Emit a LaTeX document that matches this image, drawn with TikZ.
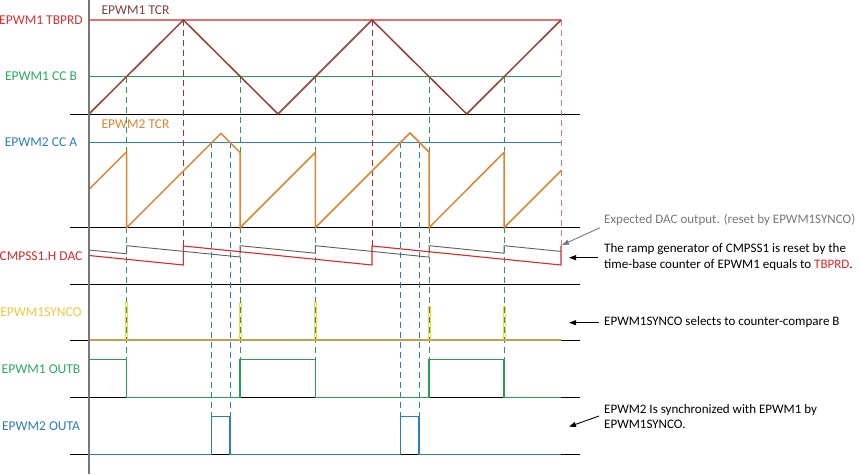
\documentclass[tikz,border=0pt]{standalone}
\usepackage{fontspec}
\setmainfont{Carlito}
\usetikzlibrary{arrows.meta}
\definecolor{tbprd}{RGB}{232,112,112}
\definecolor{tbprdtxt}{RGB}{222,48,48}
\definecolor{tcr}{RGB}{150,62,52}
\definecolor{tcrtxt}{RGB}{128,64,64}
\definecolor{grn}{RGB}{40,155,85}
\definecolor{grntxt}{RGB}{40,170,95}
\definecolor{blu}{RGB}{45,125,185}
\definecolor{org}{RGB}{222,132,48}
\definecolor{dacred}{RGB}{222,40,40}
\definecolor{dacgray}{RGB}{95,95,95}
\definecolor{ylw}{RGB}{242,212,70}
\definecolor{gold}{RGB}{190,160,75}
\definecolor{axisgray}{RGB}{120,120,120}
\definecolor{notegray}{RGB}{120,120,120}
\begin{document}
\begin{tikzpicture}[x=1pt,y=-1pt,
  lbl/.style={font=\fontsize{13.5}{15}\selectfont, inner sep=0pt, anchor=center},
  note/.style={font=\fontsize{13}{15.7}\selectfont, inner sep=0pt, anchor=west, align=left},
  baseln/.style={black, line width=1pt},
  vdash/.style={dash pattern=on 6pt off 4pt, line width=0.9pt},
  wave/.style={line width=1.5pt, line join=miter},
  arr/.style={-{Triangle[length=7pt,width=5pt]}, line width=0.9pt}]
\useasboundingbox (0,0) rectangle (862,474);
\fill[white] (0,0) rectangle (862,474);

% baselines
\foreach \yy in {114,227.7,284,340.3,397.7,454.3}
  \draw[baseln] (70,\yy) -- (580,\yy);

% reference levels
\draw[tbprd, line width=1.2pt] (89,20) -- (561,20);
\draw[grn, line width=1pt] (89,76.7) -- (561,76.7);
\draw[blu, line width=1pt] (89,142.3) -- (561,142.3);

% vertical dashed guides
\foreach \xx in {126.7,240,315.3,429,504}
  \draw[vdash, grn] (\xx,76.7) -- (\xx,359.3);
\foreach \xx in {183.4,372}
  \draw[vdash, tcr!80!red] (\xx,20) -- (\xx,246);
\draw[vdash, tbprd] (561,20) -- (561,246);
\foreach \xx in {211.7,230,400.7,419}
  \draw[vdash, blu] (\xx,142.3) -- (\xx,416.7);

% EPWM1 TCR triangle
\draw[wave, tcr] (89,114) -- (183.4,20) -- (278,114) -- (372,20) -- (466.7,114) -- (561,20);

% EPWM2 TCR sawtooth
\draw[wave, org] (89,189.3) -- (126.7,151.7) -- (126.7,227.7) -- (221,133.4) -- (240,152.4) -- (240,227.7)
  -- (315.3,152.4) -- (315.3,227.7) -- (410,133) -- (429,152) -- (429,227.7)
  -- (504,152.4) -- (504,227.7) -- (561,170.7);

% DAC
\draw[dacgray, line width=0.9pt] (89,250) -- (126.7,253.8) -- (126.7,245.7) -- (240,257) -- (240,245.7)
  -- (315.3,253.2) -- (315.3,245.7) -- (429,257.1) -- (429,245.7) -- (504,253.2) -- (504,245.7) -- (561,251.4);
\draw[dacred, line width=1.1pt] (89,255.5) -- (183.4,265) -- (183.4,246) -- (372,265) -- (372,246) -- (561,265) -- (561,246);

% EPWM1SYNCO
\draw[gold, line width=2.2pt] (89,340.3) -- (561,340.3);
\foreach \xx/\tp in {126.7/302.7,240/303,315.3/302.7,429/306.7,504/306.7}
  \draw[ylw, line width=1pt] (\xx-1,340) -- (\xx-1,\tp) -- (\xx+1,\tp) -- (\xx+1,340);

% EPWM1 OUTB
\draw[wave, grn] (89,359.3) -- (126.7,359.3) -- (126.7,397.7) -- (240,397.7) -- (240,359.3) -- (315.3,359.3)
  -- (315.3,397.7) -- (429,397.7) -- (429,359.3) -- (504,359.3) -- (504,397.7) -- (561,397.7);

% EPWM2 OUTA
\draw[wave, blu] (89,454.3) -- (211.7,454.3) -- (211.7,416.7) -- (230,416.7) -- (230,454.3) -- (400.7,454.3)
  -- (400.7,416.7) -- (419,416.7) -- (419,454.3) -- (561,454.3);

% axis
\draw[axisgray, line width=1.8pt] (89,0) -- (89,474);

% labels
\node[lbl, text=tbprdtxt] (lTBPRD) at (41,20) {EPWM1 TBPRD};
\node[lbl, text=tcrtxt] (lTCR1) at (135.5,10) {EPWM1 TCR};
\node[lbl, text=grntxt] (lCCB) at (41,76) {EPWM1 CC B};
\node[lbl, text=org] (lTCR2) at (135.5,124) {EPWM2 TCR};
\node[lbl, text=blu] (lCCA) at (41,142) {EPWM2 CC A};
\node[lbl, text=dacred] (lDAC) at (41,256) {CMPSS1.H DAC};
\node[lbl, text=ylw!85!orange] (lSYNC) at (41,311.7) {EPWM1SYNCO};
\node[lbl, text=grntxt] (lOUTB) at (41,369) {EPWM1 OUTB};
\node[lbl, text=blu] (lOUTA) at (41,426) {EPWM2 OUTA};

% annotations
\node[note, text=notegray] (nExp) at (604,220) {Expected DAC output. (reset by EPWM1SYNCO)};
\node[note] (nRamp) at (604,257.2) {The ramp generator of CMPSS1 is reset by the\\time-base counter of EPWM1 equals to \textcolor{dacred}{TBPRD}.};
\node[note] (nSync) at (604,322) {EPWM1SYNCO selects to counter-compare B};
\node[note] (nEp2) at (604,416.5) {EPWM2 Is synchronized with EPWM1 by\\EPWM1SYNCO.};

\coordinate (tExp) at (562,245);
\coordinate (tRamp) at (569,257.7);
\coordinate (tSync) at (569,322.7);
\coordinate (tEp2) at (569,426.7);
\draw[arr, notegray] (600,227.7) -- (tExp);
\draw[arr] (598,257.7) -- (tRamp);
\draw[arr] (599,322.7) -- (tSync);
\draw[arr] (599,416) -- (tEp2);
\end{tikzpicture}
\end{document}
